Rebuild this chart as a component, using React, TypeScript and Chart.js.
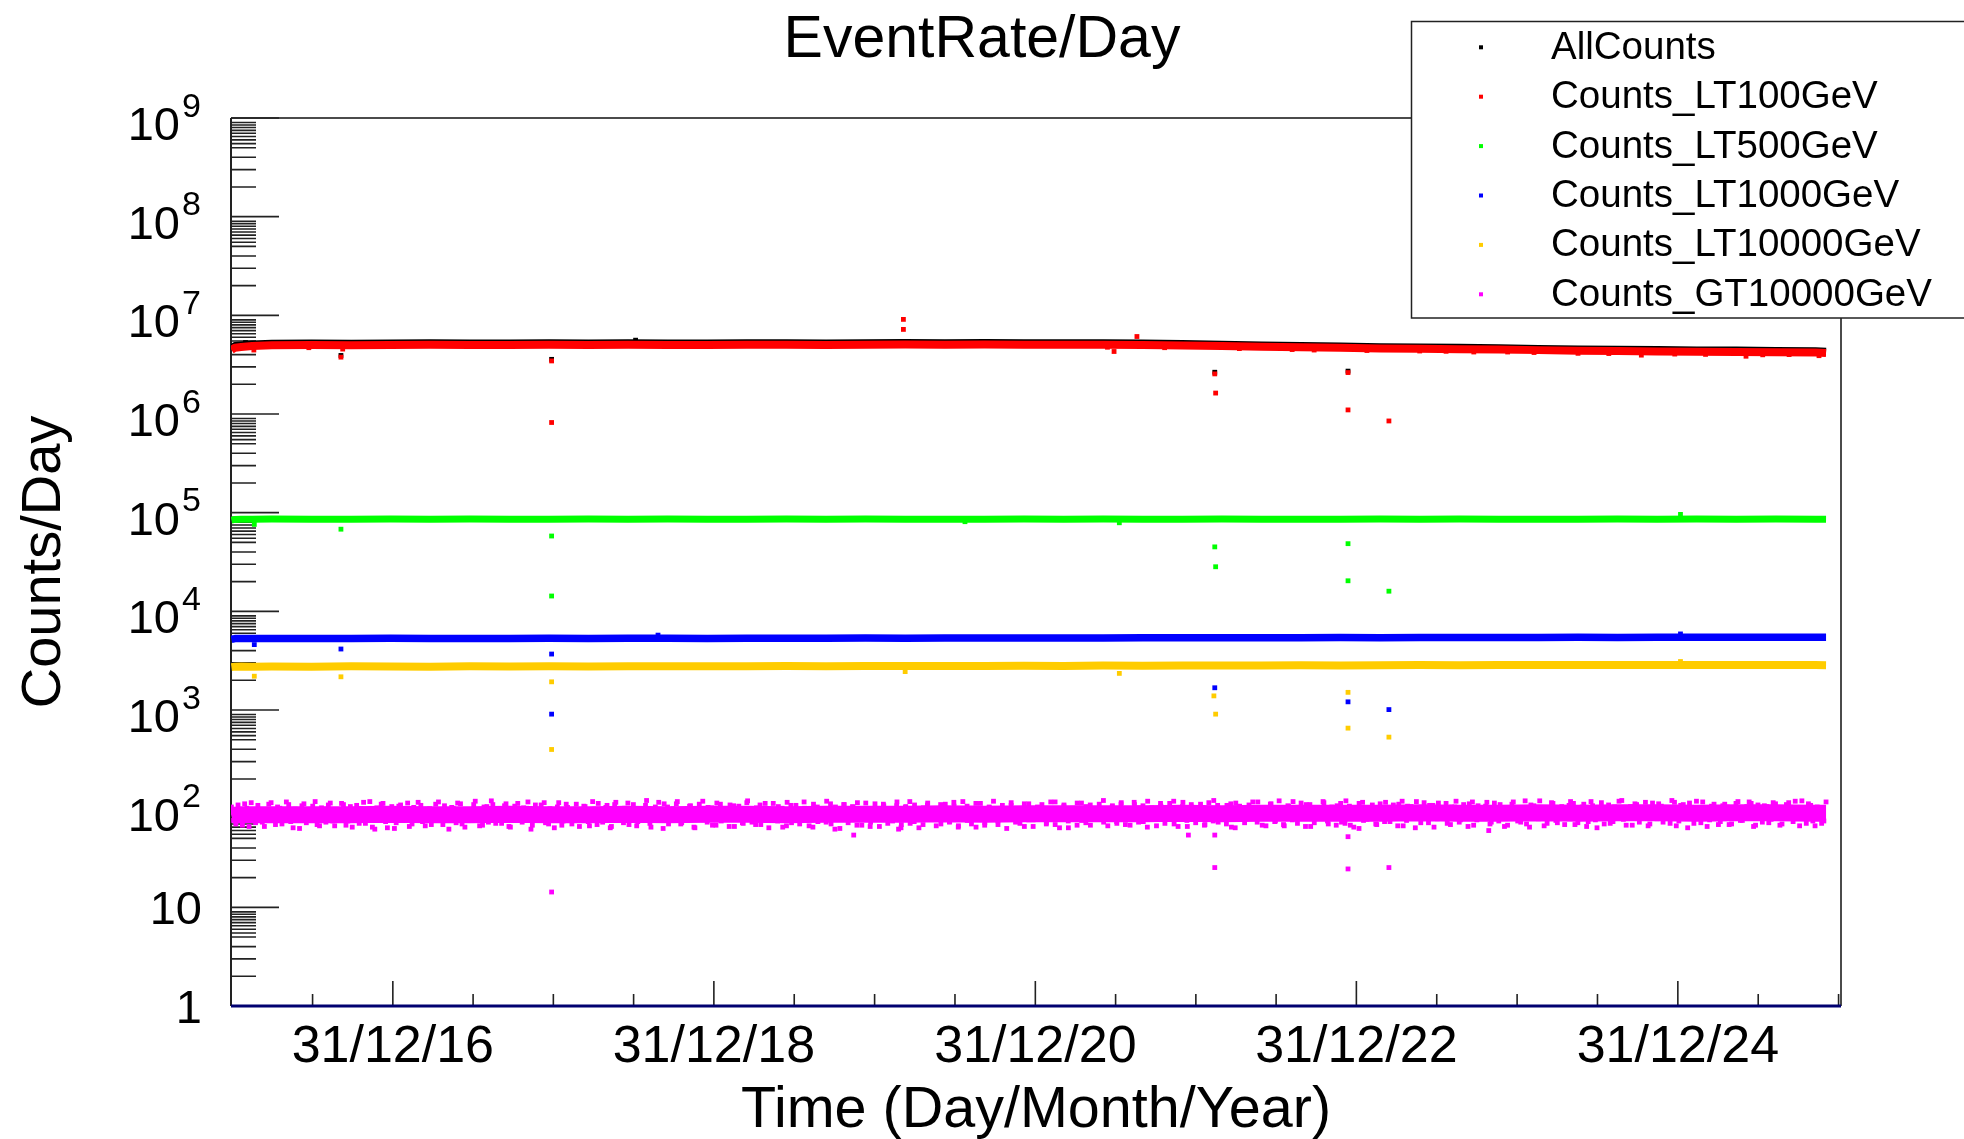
import React, { useEffect, useRef } from "react";
import { Chart, registerables } from "chart.js";

Chart.register(...registerables);

const FONT = '"Liberation Sans", Arial, Helvetica, sans-serif';

const TITLE = "EventRate/Day";
const X_TITLE = "Time (Day/Month/Year)";
const Y_TITLE = "Counts/Day";

const SERIES_NAMES = [
  "AllCounts",
  "Counts_LT100GeV",
  "Counts_LT500GeV",
  "Counts_LT1000GeV",
  "Counts_LT10000GeV",
  "Counts_GT10000GeV",
];
const SERIES_COLORS = ["#000000", "#ff0000", "#00ff00", "#0000ff", "#ffcc00", "#ff00ff"];

// time axis: days counted from 01/01/2016
const X_MIN_DAY = -3;
const X_MAX_DAY = 3658;
const X_MAJOR_DAYS = [365, 1095, 1826, 2556, 3287];
const X_MAJOR_LABELS = ["31/12/16", "31/12/18", "31/12/20", "31/12/22", "31/12/24"];

const Y_MIN = 1;
const Y_MAX = 1e9;
const Y_LABEL_BASES = ["1", "10", "10", "10", "10", "10", "10", "10", "10", "10"];
const Y_LABEL_EXPONENTS = ["", "", "2", "3", "4", "5", "6", "7", "8", "9"];
const Y_MINOR_MANTISSAS = [2, 3, 4, 5, 5.5, 6, 6.5, 7, 7.5, 8, 8.5, 9];

// daily level of each series, read at these days
const BAND_DAYS = [
  -2, 6, 20, 45, 90, 180, 270, 360, 450, 540, 630, 720, 810, 900, 990, 1080, 1170, 1260,
  1350, 1440, 1530, 1620, 1710, 1800, 1890, 1980, 2070, 2160, 2250, 2340, 2430, 2520,
  2610, 2700, 2790, 2880, 2970, 3060, 3150, 3240, 3330, 3420, 3510, 3600, 3624,
];
// AllCounts (x1e6)
const ALL_BAND = [
  4.62, 4.88, 4.95, 5.05, 5.16, 5.18, 5.16, 5.19, 5.2, 5.17, 5.18, 5.21, 5.18, 5.21, 5.19,
  5.18, 5.2, 5.22, 5.19, 5.22, 5.23, 5.21, 5.23, 5.22, 5.21, 5.2, 5.17, 5.11, 5.03, 4.94,
  4.88, 4.82, 4.76, 4.72, 4.68, 4.64, 4.57, 4.51, 4.47, 4.44, 4.41, 4.39, 4.36, 4.33, 4.27,
];
// Counts_LT100GeV (x1e6)
const LT100_BAND = [
  4.45, 4.7, 4.78, 4.88, 4.98, 5.0, 4.98, 5.01, 5.02, 4.99, 5.0, 5.02, 5.0, 5.03, 5.01,
  5.0, 5.02, 5.03, 5.01, 5.04, 5.05, 5.03, 5.05, 5.04, 5.03, 5.02, 5.0, 4.96, 4.88, 4.8,
  4.74, 4.68, 4.62, 4.58, 4.54, 4.5, 4.44, 4.38, 4.34, 4.31, 4.28, 4.26, 4.23, 4.2, 4.15,
];
// Counts_LT500GeV (x1e4)
const LT500_BAND = [
  8.4, 8.55, 8.6, 8.6, 8.62, 8.6, 8.58, 8.62, 8.6, 8.63, 8.6, 8.58, 8.61, 8.6, 8.62,
  8.6, 8.59, 8.61, 8.6, 8.62, 8.6, 8.58, 8.6, 8.62, 8.6, 8.61, 8.59, 8.6, 8.62, 8.6,
  8.58, 8.6, 8.61, 8.6, 8.62, 8.6, 8.59, 8.6, 8.62, 8.6, 8.61, 8.6, 8.62, 8.6, 8.58,
];
// Counts_LT1000GeV (x1e3)
const LT1000_BAND = [
  5.2, 5.3, 5.32, 5.3, 5.3, 5.32, 5.3, 5.33, 5.31, 5.3, 5.32, 5.33, 5.31, 5.33, 5.34,
  5.32, 5.33, 5.35, 5.34, 5.36, 5.35, 5.37, 5.36, 5.38, 5.37, 5.38, 5.39, 5.4, 5.39, 5.41,
  5.4, 5.42, 5.41, 5.43, 5.42, 5.44, 5.43, 5.45, 5.44, 5.45, 5.46, 5.45, 5.47, 5.46, 5.46,
];
// Counts_LT10000GeV (x1e3)
const LT10000_BAND = [
  2.72, 2.75, 2.76, 2.75, 2.76, 2.75, 2.77, 2.76, 2.75, 2.77, 2.76, 2.77, 2.76, 2.78, 2.77,
  2.78, 2.77, 2.79, 2.78, 2.79, 2.8, 2.79, 2.8, 2.81, 2.8, 2.82, 2.81, 2.82, 2.83, 2.82,
  2.84, 2.83, 2.84, 2.85, 2.84, 2.85, 2.86, 2.85, 2.86, 2.85, 2.86, 2.85, 2.86, 2.85, 2.84,
];
// Counts_GT10000GeV (counts)
const GT10000_BAND = [
  84, 86, 87, 87, 87, 87, 87, 88, 87, 87, 88, 87, 87, 88, 87, 88, 88, 87, 88, 88, 88, 89,
  88, 89, 89, 89, 89, 90, 89, 90, 90, 90, 90, 91, 90, 90, 91, 90, 91, 91, 90, 91, 91, 90, 90,
];

// Counts_GT10000GeV day-to-day spread, two interleaved sets of evenly spaced days
const FIRST_DAY = -2;
const LAST_DAY = 3624;
const GT10000_SPREAD_A = [
  104, 70, 92, 112, 66, 98, 108, 73, 85, 115, 69, 101, 78, 110, 64, 95, 107, 72, 88, 118,
  67, 99, 109, 75, 83, 113, 68, 105, 91, 71, 116, 80, 65, 102, 111, 74, 96, 63, 106, 86,
  114, 70, 93, 108, 67, 100, 76, 117, 69, 89, 103, 72, 112, 65, 97, 110, 79, 68, 105, 120,
  71, 94, 107, 66, 84, 113, 73, 101, 62, 109, 90, 115, 70, 82, 104, 68, 111, 77, 99, 66,
  106, 74, 118, 69, 92, 103, 64, 110, 87, 72, 114, 81, 67, 100, 108, 71, 95, 116, 63, 104,
  78, 112, 70, 97, 106, 65, 89, 119, 73, 102, 68, 111, 85, 66, 107, 94, 72, 115, 80, 69,
  109, 96, 64, 113, 75, 101, 67, 108, 91, 70, 117, 83, 65, 104, 99, 73, 112, 62, 88, 110,
  72, 105, 68, 93, 114, 66, 100, 79, 111, 71, 86, 107, 64, 103, 118, 74, 95, 69, 109, 82,
  67, 110, 98, 73, 116, 65, 90, 106, 70, 113, 84, 68, 102, 119, 75, 96, 63, 108, 87, 71,
  112, 77, 66, 104, 95, 72, 117, 69, 100, 109, 64, 91, 114, 76, 105, 68, 98, 111, 73, 83,
  107, 71, 115, 93, 68, 110, 102, 74, 119, 80, 67, 106, 97, 113, 70, 88, 116, 66, 104, 78,
  111, 69, 99, 121, 73, 86, 108, 65, 114, 95, 72, 109, 83, 117, 68, 101, 112, 75, 92, 67,
  105, 118, 71, 96, 110, 66, 103, 84, 115, 70, 91, 107, 73, 120, 68, 98, 113, 76, 87, 109,
  69, 102, 116, 74, 94, 111, 67, 106, 80, 118, 72, 100, 108, 65, 114, 89, 71, 104, 119, 77,
  97, 112, 68, 107, 85, 116, 73, 101, 110, 66, 93, 117, 75, 103, 70, 109, 88, 120, 67, 99,
  113, 72, 105, 81, 118, 69, 96, 111, 74, 107, 64, 115, 90, 71, 104, 119, 78, 100, 68, 110,
  86, 116, 70, 103, 112, 73, 95, 121, 67, 108, 82, 114, 71, 101, 117, 66, 106, 92, 74, 111,
  69, 99, 118, 76, 105, 113, 68, 90, 107, 72, 115, 84, 70, 110, 102, 119, 67, 96, 112, 75,
  104, 71, 117,
];
const GT10000_SPREAD_B = [
  76, 109, 68, 101, 115, 72, 97, 66, 111, 79, 104, 70, 117, 74, 99, 63, 112, 77, 106, 69,
  102, 73, 114, 67, 98, 110, 75, 65, 108, 100, 71, 118, 78, 96, 113, 64, 105, 72, 109, 80,
  66, 103, 116, 74, 99, 69, 111, 76, 107, 62, 101, 114, 70, 97, 78, 119, 67, 104, 73, 110,
  98, 71, 112, 65, 106, 77, 102, 117, 68, 95, 109, 72, 100, 64, 115, 75, 103, 70, 111, 79,
  105, 67, 99, 113, 73, 108, 66, 116, 76, 101, 69, 110, 74, 97, 121, 65, 104, 78, 112, 70,
  100, 118, 72, 96, 107, 64, 111, 77, 103, 68, 114, 75, 98, 109, 66, 106, 71, 120, 73, 102,
  69, 113, 76, 99, 105, 65, 116, 72, 108, 79, 101, 67, 111, 74, 97, 119, 70, 104, 63, 110,
  77, 103, 115, 68, 100, 73, 112, 66, 107, 98, 75, 117, 69, 105, 71, 109, 64, 102, 114, 78,
  99, 70, 111, 74, 106, 67, 118, 76, 101, 65, 113, 72, 104, 96, 69, 108, 80, 115, 73, 100,
  66, 112, 77, 103, 110, 70, 97, 117, 64, 106, 75, 101, 68, 114, 72, 109, 79, 99, 121, 67,
  104, 74, 111, 69, 100, 116, 73, 107, 65, 102, 78, 113, 71, 98, 119, 66, 105, 76, 110, 72,
  101, 68, 115, 75, 108, 97, 70, 112, 64, 106, 79, 103, 117, 73, 99, 67, 111, 74, 120, 69,
  107, 77, 102, 114, 66, 110, 72, 99, 118, 75, 104, 68, 113, 71, 106, 65, 100, 116, 78, 103,
  70, 112, 74, 98, 109, 67, 119, 76, 105, 64, 101, 115, 72, 108, 79, 97, 113, 69, 104, 73,
  110, 66, 117, 77, 100, 106, 70, 114, 75, 103, 68, 111, 98, 73, 120, 65, 107, 79, 102, 71,
  115, 76, 99, 69, 108, 113, 72, 104, 66, 118, 77, 101, 70, 109, 74, 97, 121, 68, 105, 112,
  73, 102, 67, 114, 79, 106, 99, 71, 116, 75, 110, 64, 103, 119, 72, 100, 77, 111, 69, 107,
  104, 70, 113, 76, 98, 117, 66, 109, 73, 105, 78, 112, 68, 101, 115, 74, 99, 120, 71, 108,
  67, 103, 75,
];

// single days away from the daily level
const ALL_OUT_DAYS = [30, 247, 726, 917, 2234, 2537];
const ALL_OUT_VALS = [5.3, 3.92, 3.58, 5.6, 2.65, 2.72]; // x1e6
const LT100_OUT_DAYS = [
  49, 174, 247, 251, 726, 726, 1526, 1526, 2005, 2057, 2234, 2236, 2537, 2537, 2630, 2823, 3204, 3442, 3608,
  1990, 2120, 2290, 2410, 2460, 2580, 2700, 2760, 2900, 2960, 3060, 3130, 3280, 3350, 3480, 3540,
];
const LT100_OUT_VALS = [
  4.45, 4.7, 3.77, 4.55, 3.45, 0.82, 9.1, 7.2, 4.3, 6.1, 2.55, 1.63, 2.63, 1.1, 0.85, 4.25, 3.95, 3.85, 3.9,
  4.75, 4.7, 4.6, 4.5, 4.45, 4.4, 4.35, 4.32, 4.25, 4.2, 4.12, 4.1, 4.05, 4.02, 3.98, 4.0,
]; // x1e6
const LT500_OUT_DAYS = [50, 247, 726, 726, 1666, 2017, 2234, 2236, 2537, 2537, 2630, 3293];
const LT500_OUT_VALS = [7.6, 6.8, 5.8, 1.43, 8.1, 7.9, 4.5, 2.83, 4.85, 2.04, 1.6, 9.6]; // x1e4
const LT1000_OUT_DAYS = [50, 247, 726, 726, 968, 2234, 2537, 2630, 3293];
const LT1000_OUT_VALS = [4.6, 4.15, 3.69, 0.908, 5.74, 1.68, 1.21, 1.01, 5.9]; // x1e3
const LT10000_OUT_DAYS = [50, 247, 726, 726, 1530, 2017, 2232, 2236, 2537, 2537, 2630, 3293];
const LT10000_OUT_VALS = [2.2, 2.17, 1.93, 0.398, 2.45, 2.35, 1.39, 0.908, 1.51, 0.655, 0.531, 3.1]; // x1e3
const GT10000_OUT_DAYS = [324, 726, 1413, 1515, 2174, 2234, 2234, 2537, 2537, 2562, 2630, 2857];
const GT10000_OUT_VALS = [62, 14.3, 54, 62, 54, 54, 25.3, 52, 24.5, 63, 25.3, 60];

const SERIES_UNITS = [1e6, 1e6, 1e4, 1e3, 1e3, 1];
const SERIES_BANDS = [ALL_BAND, LT100_BAND, LT500_BAND, LT1000_BAND, LT10000_BAND, GT10000_BAND];
const SERIES_OUT_DAYS = [ALL_OUT_DAYS, LT100_OUT_DAYS, LT500_OUT_DAYS, LT1000_OUT_DAYS, LT10000_OUT_DAYS, GT10000_OUT_DAYS];
const SERIES_OUT_VALS = [ALL_OUT_VALS, LT100_OUT_VALS, LT500_OUT_VALS, LT1000_OUT_VALS, LT10000_OUT_VALS, GT10000_OUT_VALS];
const BAND_WIDTHS = [8, 8, 7, 7.5, 8, 17];

const W = 1964;
const H = 1139;
const AREA = { left: 231, top: 118, right: 1841, bottom: 1006 };
const MARKER_R = 3.4;

function pointSet(label: string, data: any[], color: string, order: number) {
  return {
    label,
    data,
    showLine: false,
    pointStyle: "rect",
    pointRadius: MARKER_R,
    pointHoverRadius: MARKER_R,
    pointBorderWidth: 0,
    pointBackgroundColor: color,
    backgroundColor: color,
    borderColor: color,
    order,
  };
}

function buildDatasets() {
  const ds: any[] = [];
  SERIES_NAMES.forEach((name, k) => {
    const unit = SERIES_UNITS[k];
    const color = SERIES_COLORS[k];
    const base = 100 - k * 10;
    ds.push({
      label: name + " level",
      data: BAND_DAYS.map((d, i) => ({ x: d, y: SERIES_BANDS[k][i] * unit })),
      showLine: true,
      borderColor: color,
      backgroundColor: color,
      borderWidth: BAND_WIDTHS[k],
      pointRadius: 0,
      pointHoverRadius: 0,
      tension: 0,
      borderJoinStyle: "round",
      order: base,
    });
    ds.push(
      pointSet(
        name,
        SERIES_OUT_DAYS[k].map((d, i) => ({ x: d, y: SERIES_OUT_VALS[k][i] * unit })),
        color,
        base - 1
      )
    );
  });
  const nA = GT10000_SPREAD_A.length;
  const nB = GT10000_SPREAD_B.length;
  ds.push(
    pointSet(
      "Counts_GT10000GeV spread A",
      GT10000_SPREAD_A.map((v, i) => ({ x: FIRST_DAY + (i * (LAST_DAY - FIRST_DAY)) / (nA - 1), y: v })),
      SERIES_COLORS[5],
      48
    )
  );
  ds.push(
    pointSet(
      "Counts_GT10000GeV spread B",
      GT10000_SPREAD_B.map((v, i) => ({ x: FIRST_DAY + 5 + (i * (LAST_DAY - FIRST_DAY - 10)) / (nB - 1), y: v })),
      SERIES_COLORS[5],
      47
    )
  );
  return ds;
}

function minorXDays(): number[] {
  const out: number[] = [];
  for (let i = 0; i < X_MAJOR_DAYS.length - 1; i++) {
    const a = X_MAJOR_DAYS[i];
    const step = (X_MAJOR_DAYS[i + 1] - a) / 4;
    for (let q = 1; q < 4; q++) out.push(a + q * step);
  }
  const s0 = (X_MAJOR_DAYS[1] - X_MAJOR_DAYS[0]) / 4;
  for (let d = X_MAJOR_DAYS[0] - s0; d > X_MIN_DAY + 4; d -= s0) out.push(d);
  const last = X_MAJOR_DAYS[X_MAJOR_DAYS.length - 1];
  const s1 = (last - X_MAJOR_DAYS[X_MAJOR_DAYS.length - 2]) / 4;
  for (let d = last + s1; d < X_MAX_DAY - 4; d += s1) out.push(d);
  return out;
}

const rootPlugin = {
  id: "rootStyle",
  beforeDatasetsDraw(chart: any) {
    const { ctx, chartArea: a, scales } = chart;
    const xs = scales.x;
    const ys = scales.y;
    ctx.save();
    ctx.strokeStyle = "#111";
    ctx.lineWidth = 1.5;
    ctx.beginPath();
    ctx.moveTo(a.left, a.top);
    ctx.lineTo(a.right, a.top);
    ctx.lineTo(a.right, a.bottom);
    ctx.stroke();
    ctx.lineWidth = 2;
    ctx.strokeStyle = "#222";
    ctx.beginPath();
    ctx.moveTo(a.left, a.top);
    ctx.lineTo(a.left, a.bottom);
    ctx.stroke();

    ctx.lineWidth = 1.6;
    ctx.strokeStyle = "#222";
    ctx.beginPath();
    for (let e = 0; e <= 9; e++) {
      const v = Math.pow(10, e);
      const y = ys.getPixelForValue(v);
      if (e > 0) {
        ctx.moveTo(a.left, y);
        ctx.lineTo(a.left + 48, y);
      }
      if (e < 9) {
        Y_MINOR_MANTISSAS.forEach((m) => {
          const ym = ys.getPixelForValue(m * v);
          ctx.moveTo(a.left, ym);
          ctx.lineTo(a.left + 25, ym);
        });
      }
    }
    X_MAJOR_DAYS.forEach((d) => {
      const x = xs.getPixelForValue(d);
      ctx.moveTo(x, a.bottom);
      ctx.lineTo(x, a.bottom - 25);
    });
    minorXDays().forEach((d) => {
      const x = xs.getPixelForValue(d);
      ctx.moveTo(x, a.bottom);
      ctx.lineTo(x, a.bottom - 12);
    });
    ctx.stroke();

    ctx.strokeStyle = "#000070";
    ctx.lineWidth = 3;
    ctx.beginPath();
    ctx.moveTo(a.left, a.bottom);
    ctx.lineTo(a.right, a.bottom);
    ctx.stroke();
    ctx.restore();
  },
  afterDraw(chart: any) {
    const { ctx, chartArea: a, scales } = chart;
    const xs = scales.x;
    const ys = scales.y;
    ctx.save();
    ctx.fillStyle = "#000";

    for (let e = 0; e <= 9; e++) {
      const y = ys.getPixelForValue(Math.pow(10, e));
      const base = Y_LABEL_BASES[e];
      const ex = Y_LABEL_EXPONENTS[e];
      ctx.textBaseline = "alphabetic";
      if (!ex) {
        ctx.font = "47px " + FONT;
        ctx.textAlign = "right";
        ctx.fillText(base, 202, y + 17);
      } else {
        ctx.font = "47px " + FONT;
        ctx.textAlign = "right";
        ctx.fillText(base, 180, y + 22);
        ctx.font = "34px " + FONT;
        ctx.textAlign = "left";
        ctx.fillText(ex, 182, y - 1.5);
      }
    }

    ctx.font = "52px " + FONT;
    ctx.textAlign = "center";
    ctx.textBaseline = "alphabetic";
    X_MAJOR_DAYS.forEach((d, i) => {
      ctx.fillText(X_MAJOR_LABELS[i], xs.getPixelForValue(d), a.bottom + 56);
    });

    ctx.font = "57.5px " + FONT;
    ctx.fillText(X_TITLE, (a.left + a.right) / 2, 1127);
    ctx.font = "59px " + FONT;
    ctx.fillText(TITLE, W / 2, 57);
    ctx.save();
    ctx.translate(60, (a.top + a.bottom) / 2);
    ctx.rotate(-Math.PI / 2);
    ctx.font = "56px " + FONT;
    ctx.textAlign = "center";
    ctx.fillText(Y_TITLE, 0, 0);
    ctx.restore();

    const lx = 1411.5;
    const ly = 21.5;
    ctx.fillStyle = "#fff";
    ctx.fillRect(lx, ly, W - lx + 4, 318 - ly);
    ctx.strokeStyle = "#222";
    ctx.lineWidth = 1.5;
    ctx.strokeRect(lx, ly, W - lx + 4, 318 - ly);
    ctx.font = "38.5px " + FONT;
    ctx.textAlign = "left";
    SERIES_NAMES.forEach((name, i) => {
      const yc = 47.3 + 49.4 * i;
      ctx.fillStyle = SERIES_COLORS[i];
      ctx.fillRect(1479, yc - 2, 4, 4);
      ctx.fillStyle = "#000";
      ctx.fillText(name, 1551, yc + 11.5);
    });
    ctx.restore();
  },
};

export default function App() {
  const ref = useRef<HTMLCanvasElement | null>(null);
  useEffect(() => {
    document.body.style.margin = "0";
    const canvas = ref.current;
    if (!canvas) return;
    const chart = new Chart(canvas, {
      type: "scatter",
      data: { datasets: buildDatasets() },
      options: {
        animation: false,
        responsive: false,
        devicePixelRatio: 1,
        events: [],
        layout: {
          padding: {
            left: AREA.left,
            top: AREA.top,
            right: W - AREA.right,
            bottom: H - AREA.bottom,
          },
        },
        scales: {
          x: { type: "linear", min: X_MIN_DAY, max: X_MAX_DAY, display: false },
          y: { type: "logarithmic", min: Y_MIN, max: Y_MAX, display: false },
        },
        plugins: {
          legend: { display: false },
          title: { display: false },
          tooltip: { enabled: false },
        },
      },
      plugins: [rootPlugin],
    } as any);
    return () => chart.destroy();
  }, []);
  return (
    <div style={{ position: "absolute", left: 0, top: 0, width: W, height: H, background: "#fff" }}>
      <canvas ref={ref} width={W} height={H} style={{ width: W, height: H, display: "block" }} />
    </div>
  );
}
